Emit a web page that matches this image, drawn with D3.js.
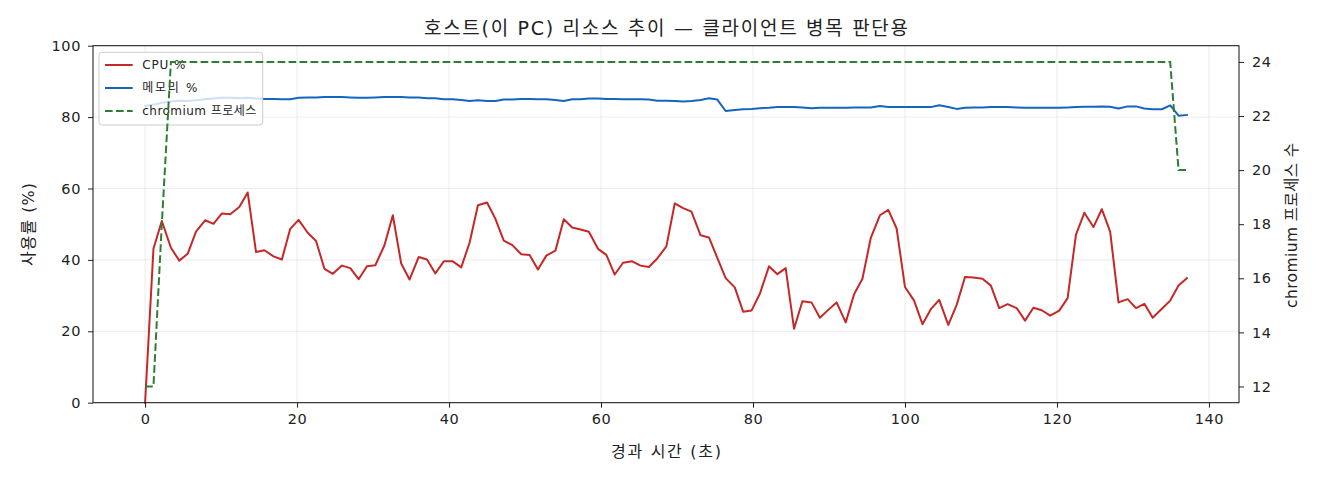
<!DOCTYPE html>
<html>
<head>
<meta charset="utf-8">
<script src="https://cdn.jsdelivr.net/npm/d3@7"></script>
<style>
  body { margin: 0; background: #fff; }
  text { font-family: "DejaVu Sans", "Noto Sans CJK KR", sans-serif; fill: #222; }
</style>
</head>
<body>
<script>
// 경과 시간 (초)
var times = [
  0, 1.1, 2.2, 3.4, 4.5, 5.6, 6.7, 7.9, 9.0, 10.1,
  11.2, 12.4, 13.5, 14.6, 15.7, 16.9, 18.0, 19.1, 20.2, 21.4,
  22.5, 23.6, 24.7, 25.9, 27.0, 28.1, 29.2, 30.3, 31.5, 32.6,
  33.7, 34.8, 36.0, 37.1, 38.2, 39.3, 40.5, 41.6, 42.7, 43.8,
  45.0, 46.1, 47.2, 48.3, 49.5, 50.6, 51.7, 52.8, 54.0, 55.1,
  56.2, 57.3, 58.4, 59.6, 60.7, 61.8, 62.9, 64.1, 65.2, 66.3,
  67.4, 68.6, 69.7, 70.8, 71.9, 73.1, 74.2, 75.3, 76.4, 77.6,
  78.7, 79.8, 80.9, 82.1, 83.2, 84.3, 85.4, 86.5, 87.7, 88.8,
  89.9, 91.0, 92.2, 93.3, 94.4, 95.5, 96.7, 97.8, 98.9, 100.0,
  101.2, 102.3, 103.4, 104.5, 105.7, 106.8, 107.9, 109.0, 110.2, 111.3,
  112.4, 113.5, 114.7, 115.8, 116.9, 118.0, 119.1, 120.3, 121.4, 122.5,
  123.6, 124.8, 125.9, 127.0, 128.1, 129.3, 130.4, 131.5, 132.6, 133.8,
  134.9, 136.0, 137.1
];

var cpu = [
  0, 43.1, 50.9, 43.4, 39.8, 41.7, 47.9, 51.1, 50.1, 53.0,
  52.8, 54.8, 58.9, 42.2, 42.7, 41.0, 40.1, 48.7, 51.2, 47.6,
  45.3, 37.5, 36.1, 38.4, 37.7, 34.6, 38.2, 38.5, 44.1, 52.5,
  39.0, 34.5, 40.8, 40.1, 36.2, 39.6, 39.6, 37.9, 44.8, 55.3,
  56.1, 51.5, 45.4, 44.2, 41.6, 41.4, 37.3, 41.2, 42.6, 51.4,
  49.1, 48.5, 47.9, 43.1, 41.4, 35.9, 39.2, 39.6, 38.4, 38.0,
  40.4, 43.8, 55.8, 54.5, 53.5, 46.9, 46.3, 40.6, 34.9, 32.3,
  25.5, 25.8, 30.5, 38.2, 36.0, 37.7, 20.7, 28.4, 28.1, 23.8,
  26.0, 28.1, 22.5, 30.4, 34.7, 46.2, 52.5, 54.0, 48.8, 32.4,
  28.6, 22.0, 26.2, 28.8, 21.8, 27.4, 35.2, 35.1, 34.7, 32.8,
  26.5, 27.6, 26.5, 23.0, 26.6, 25.9, 24.4, 25.8, 29.3, 47.1,
  53.2, 49.2, 54.2, 47.9, 28.1, 29.0, 26.5, 27.7, 23.8, 26.3,
  28.6, 32.8, 34.9
];

var mem = [
  83.1, 83.5, 84.0, 84.4, 84.6, 84.5, 84.7, 85.0, 85.2, 85.4,
  85.4, 85.3, 85.4, 85.2, 85.1, 85.1, 85.0, 85.0, 85.4, 85.5,
  85.5, 85.6, 85.6, 85.6, 85.5, 85.4, 85.4, 85.5, 85.6, 85.6,
  85.6, 85.5, 85.5, 85.3, 85.3, 85.0, 85.0, 84.8, 84.5, 84.7,
  84.5, 84.5, 84.9, 84.9, 85.1, 85.1, 85.0, 85.0, 84.8, 84.5,
  85.0, 85.0, 85.2, 85.2, 85.1, 85.1, 85.0, 85.0, 85.0, 84.9,
  84.6, 84.6, 84.5, 84.4, 84.5, 84.8, 85.3, 84.9, 81.7, 82.0,
  82.2, 82.3, 82.5, 82.6, 82.8, 82.8, 82.8, 82.7, 82.5, 82.6,
  82.6, 82.6, 82.6, 82.7, 82.7, 82.7, 83.1, 82.8, 82.8, 82.8,
  82.8, 82.8, 82.8, 83.3, 82.8, 82.3, 82.6, 82.7, 82.7, 82.8,
  82.8, 82.8, 82.7, 82.6, 82.6, 82.6, 82.6, 82.6, 82.7, 82.8,
  82.9, 82.9, 83.0, 82.9, 82.4, 83.0, 83.0, 82.4, 82.2, 82.2,
  83.3, 80.4, 80.6
];

var procs = [
  12, 12, 18, 24, 24, 24, 24, 24, 24, 24,
  24, 24, 24, 24, 24, 24, 24, 24, 24, 24,
  24, 24, 24, 24, 24, 24, 24, 24, 24, 24,
  24, 24, 24, 24, 24, 24, 24, 24, 24, 24,
  24, 24, 24, 24, 24, 24, 24, 24, 24, 24,
  24, 24, 24, 24, 24, 24, 24, 24, 24, 24,
  24, 24, 24, 24, 24, 24, 24, 24, 24, 24,
  24, 24, 24, 24, 24, 24, 24, 24, 24, 24,
  24, 24, 24, 24, 24, 24, 24, 24, 24, 24,
  24, 24, 24, 24, 24, 24, 24, 24, 24, 24,
  24, 24, 24, 24, 24, 24, 24, 24, 24, 24,
  24, 24, 24, 24, 24, 24, 24, 24, 24, 24,
  24, 20, 20
];

var xTicks = [0, 20, 40, 60, 80, 100, 120, 140];
var yTicks = [0, 20, 40, 60, 80, 100];
var y2Ticks = [12, 14, 16, 18, 20, 22, 24];

var legendLabels = ["CPU %", "메모리 %", "chromium 프로세스"];
var legendWidths = [43, 55, 114];

var margin = {top: 45.7, right: 81, bottom: 77.3, left: 93},
    width = 1320 - margin.left - margin.right,
    height = 480 - margin.top - margin.bottom;

var x = d3.scaleLinear().domain([-6.855, 143.955]).range([0, width]);
var y = d3.scaleLinear().domain([0, 100]).range([height, 0]);
var y2 = d3.scaleLinear().domain([11.4, 24.6]).range([height, 0]);

var svg = d3.select("body").append("svg")
    .attr("width", 1320)
    .attr("height", 480);

svg.append("rect").attr("width", 1320).attr("height", 480).attr("fill", "#fff");

var g = svg.append("g")
    .attr("transform", "translate(" + margin.left + "," + margin.top + ")");

// grid
g.append("g").selectAll("line").data(xTicks).enter().append("line")
    .attr("x1", function(d) { return x(d); }).attr("x2", function(d) { return x(d); })
    .attr("y1", 0).attr("y2", height)
    .attr("stroke", "#b0b0b0").attr("stroke-opacity", 0.3).attr("stroke-width", 0.8);
g.append("g").selectAll("line").data(yTicks).enter().append("line")
    .attr("y1", function(d) { return y(d); }).attr("y2", function(d) { return y(d); })
    .attr("x1", 0).attr("x2", width)
    .attr("stroke", "#b0b0b0").attr("stroke-opacity", 0.3).attr("stroke-width", 0.8);

var idx = d3.range(times.length);

var cpuLine = d3.line().x(function(i) { return x(times[i]); }).y(function(i) { return y(cpu[i]); });
var memLine = d3.line().x(function(i) { return x(times[i]); }).y(function(i) { return y(mem[i]); });
var procLine = d3.line().x(function(i) { return x(times[i]); }).y(function(i) { return y2(procs[i]); });

g.append("path").datum(idx).attr("d", cpuLine)
    .attr("fill", "none").attr("stroke", "#c62828").attr("stroke-width", 2)
    .attr("stroke-linejoin", "round").attr("stroke-linecap", "square");
g.append("path").datum(idx).attr("d", memLine)
    .attr("fill", "none").attr("stroke", "#1565c0").attr("stroke-width", 2)
    .attr("stroke-linejoin", "round").attr("stroke-linecap", "square");

// legend (sits under the second-axis line)
var leg = g.append("g").attr("transform", "translate(6,6.6)");
leg.append("rect")
    .attr("width", 163.7).attr("height", 72.7).attr("rx", 3)
    .attr("fill", "#fff").attr("fill-opacity", 0.8)
    .attr("stroke", "#cccccc").attr("stroke-width", 1);
var legColors = ["#c62828", "#1565c0", "#2e7d32"];
legendLabels.forEach(function(lab, i) {
  var ly = 12.7 + i * 23;
  leg.append("line")
      .attr("x1", 6).attr("x2", 33.7).attr("y1", ly).attr("y2", ly)
      .attr("stroke", legColors[i]).attr("stroke-width", 2)
      .attr("stroke-dasharray", i === 2 ? "7.7,3.3" : null);
  leg.append("text")
      .attr("x", 43.3).attr("y", ly).attr("dy", "0.36em")
      .attr("textLength", legendWidths[i]).attr("lengthAdjust", "spacing")
      .style("font-size", "12px").text(lab);
});

g.append("path").datum(idx).attr("d", procLine)
    .attr("fill", "none").attr("stroke", "#2e7d32").attr("stroke-width", 2)
    .attr("stroke-dasharray", "7.7,3.3");

// axes
var xAxis = d3.axisBottom(x).tickValues(xTicks).tickSize(5).tickPadding(6);
var yAxis = d3.axisLeft(y).tickValues(yTicks).tickSize(5).tickPadding(7);
var y2Axis = d3.axisRight(y2).tickValues(y2Ticks).tickSize(5).tickPadding(8);

function styleAxis(sel) {
  sel.select(".domain").remove();
  sel.selectAll("line").attr("stroke", "#222").attr("stroke-width", 1);
  sel.selectAll("text").style("font-size", "14.5px").attr("fill", "#222")
      .style("font-family", "'DejaVu Sans', sans-serif")
      .style("letter-spacing", "0.6px");
}

g.append("g").attr("transform", "translate(0," + height + ")").call(xAxis).call(styleAxis);
g.append("g").call(yAxis).call(styleAxis);
g.append("g").attr("transform", "translate(" + width + ",0)").call(y2Axis).call(styleAxis);

g.append("rect").attr("width", width).attr("height", height)
    .attr("fill", "none").attr("stroke", "#111").attr("stroke-width", 1);

// labels
svg.append("text")
    .attr("x", 424).attr("y", 35)
    .attr("textLength", 484).attr("lengthAdjust", "spacing")
    .style("font-size", "19px")
    .text("호스트(이 PC) 리소스 추이 — 클라이언트 병목 판단용");

svg.append("text")
    .attr("x", 611).attr("y", 457)
    .attr("textLength", 110).attr("lengthAdjust", "spacing")
    .style("font-size", "16px")
    .text("경과 시간 (초)");

svg.append("text")
    .attr("transform", "translate(33.5,266) rotate(-90)")
    .attr("textLength", 83).attr("lengthAdjust", "spacing")
    .style("font-size", "16px")
    .text("사용률 (%)");

svg.append("text")
    .attr("transform", "translate(1297,308) rotate(-90)")
    .attr("textLength", 165).attr("lengthAdjust", "spacing")
    .style("font-size", "15.5px")
    .text("chromium 프로세스 수");
</script>
</body>
</html>
